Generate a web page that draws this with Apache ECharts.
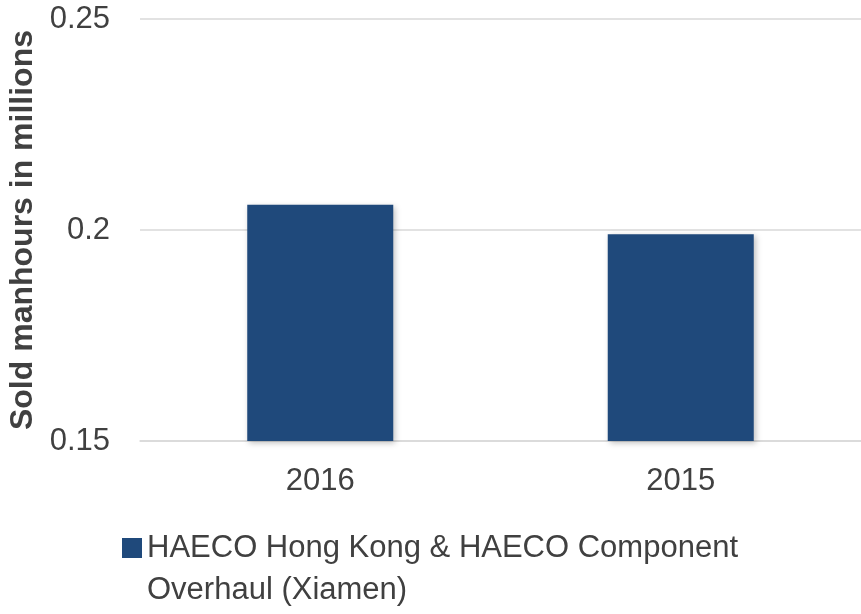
<!DOCTYPE html>
<html>
<head>
<meta charset="utf-8">
<script src="https://cdn.jsdelivr.net/npm/echarts@6/dist/echarts.min.js"></script>
<style>
  html, body { margin: 0; padding: 0; background: #ffffff; }
  #chart { width: 861px; height: 614px; }
</style>
</head>
<body>
<div id="chart"></div>
<script>
const categories = ['2016', '2015'];
const seriesName = 'HAECO Hong Kong & HAECO Component Overhaul (Xiamen)';
const legendLines = ['HAECO Hong Kong & HAECO Component', 'Overhaul (Xiamen)'];
const values = [0.206, 0.199];
const yTicks = { min: 0.15, max: 0.25, interval: 0.05 };
const yTitle = 'Sold manhours in millions';

const FONT = 'Liberation Sans, Arial, sans-serif';
const TXT = '#404040';

const chart = echarts.init(document.getElementById('chart'), null, { renderer: 'canvas' });
chart.setOption({
  animation: false,
  backgroundColor: '#ffffff',
  grid: { left: 140, right: 0, top: 19, bottom: 173, containLabel: false, outerBoundsMode: 'none' },
  xAxis: {
    type: 'category',
    data: categories,
    axisLine: { show: true, lineStyle: { color: '#d9d9d9', width: 1.5 } },
    axisTick: { show: false },
    axisLabel: { color: TXT, fontSize: 31, fontFamily: FONT, margin: 25 }
  },
  yAxis: {
    type: 'value',
    min: yTicks.min,
    max: yTicks.max,
    interval: yTicks.interval,
    name: yTitle,
    nameLocation: 'middle',
    nameGap: 100,
    nameTextStyle: { color: TXT, fontSize: 32, fontWeight: 'bold', fontFamily: FONT },
    axisLine: { show: false },
    axisTick: { show: false },
    axisLabel: {
      color: TXT, fontSize: 31, fontFamily: FONT, margin: 30,
      formatter: function (v) { return String(parseFloat(v.toFixed(2))); }
    },
    splitLine: { lineStyle: { color: '#d9d9d9', width: 1.5 } }
  },
  legend: {
    left: 117,
    top: 480,
    icon: 'rect',
    itemWidth: 20,
    itemHeight: 20,
    formatter: function () { return ' \n' + legendLines.join('\n'); },
    textStyle: { color: TXT, fontSize: 31, fontFamily: FONT, lineHeight: 42 },
    data: [seriesName]
  },
  series: [{
    name: seriesName,
    type: 'bar',
    data: values,
    barWidth: 146,
    itemStyle: {
      color: '#1f497b',
      shadowBlur: 6,
      shadowColor: 'rgba(0,0,0,0.25)',
      shadowOffsetX: 2,
      shadowOffsetY: 2
    }
  }]
});
</script>
</body>
</html>
